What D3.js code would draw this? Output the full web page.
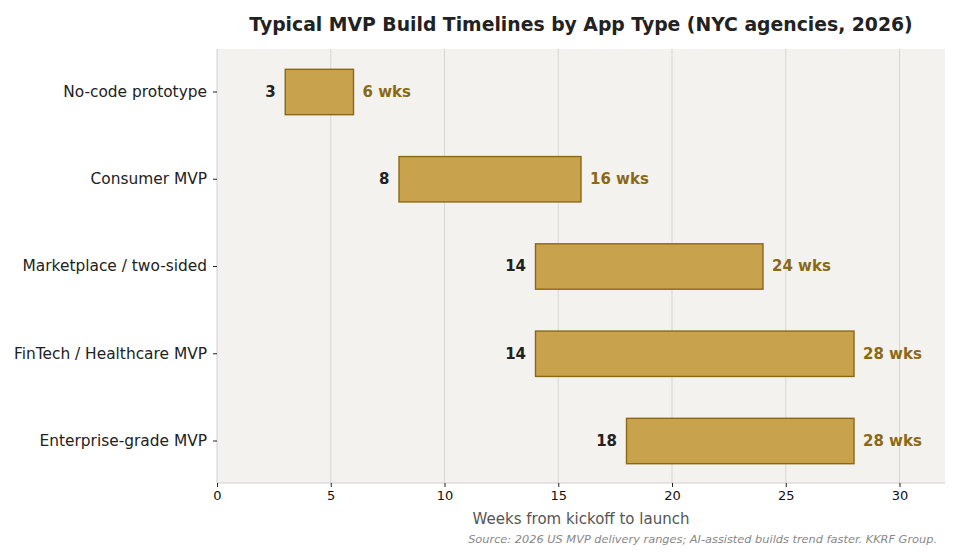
<!DOCTYPE html>
<html>
<head>
<meta charset="utf-8">
<script src="https://cdn.jsdelivr.net/npm/d3@7"></script>
<style>
  body { margin: 0; background: #fff; }
  svg { font-family: "DejaVu Sans", sans-serif; }
</style>
</head>
<body>
<svg id="chart" width="960" height="560"></svg>
<script>
var appTypes = ["No-code prototype", "Consumer MVP", "Marketplace / two-sided", "FinTech / Healthcare MVP", "Enterprise-grade MVP"];
var minWeeks = [3, 8, 14, 14, 18];
var maxWeeks = [6, 16, 24, 28, 28];
var xTicks = [0, 5, 10, 15, 20, 25, 30];

var data = appTypes.map((d, i) => ({type: d, lo: minWeeks[i], hi: maxWeeks[i]}));

var margin = {top: 49, right: 15, bottom: 77, left: 217};
var width = 960, height = 560;
var svg = d3.select("#chart");

var x = d3.scaleLinear().domain([0, 32]).range([margin.left, width - margin.right]);
var y = d3.scaleBand().domain(appTypes).range([margin.top, height - margin.bottom]).paddingInner(0.48).paddingOuter(0.227);

// plot background
svg.append("rect")
    .attr("x", margin.left).attr("y", margin.top)
    .attr("width", x(32) - margin.left)
    .attr("height", height - margin.bottom - margin.top)
    .attr("fill", "#f3f2ef");

// grid
svg.append("g").selectAll("line")
    .data(xTicks.filter(d => d > 0))
    .join("line")
    .attr("x1", d => x(d)).attr("x2", d => x(d))
    .attr("y1", margin.top).attr("y2", height - margin.bottom)
    .attr("stroke", "#d6d6d3").attr("stroke-width", 1);

// spines
svg.append("line")
    .attr("x1", margin.left).attr("x2", margin.left)
    .attr("y1", margin.top).attr("y2", height - margin.bottom)
    .attr("stroke", "#d0d0cc");
svg.append("line")
    .attr("x1", margin.left).attr("x2", x(32))
    .attr("y1", height - margin.bottom).attr("y2", height - margin.bottom)
    .attr("stroke", "#d0d0cc");

// x axis
var xAxis = svg.append("g")
    .attr("transform", "translate(0," + (height - margin.bottom) + ")")
    .call(d3.axisBottom(x).tickValues(xTicks).tickSize(4).tickPadding(4));
xAxis.select(".domain").remove();
xAxis.selectAll("text").attr("font-size", "13px").attr("fill", "#111").attr("font-family", "DejaVu Sans");
xAxis.selectAll(".tick line").attr("stroke", "#222");

// y axis
var yAxis = svg.append("g")
    .attr("transform", "translate(" + margin.left + ",0.5)")
    .call(d3.axisLeft(y).tickSize(4).tickPadding(6));
yAxis.select(".domain").remove();
yAxis.selectAll("text").attr("font-size", "15.4px").attr("fill", "#222").attr("font-family", "DejaVu Sans");
yAxis.selectAll(".tick line").attr("stroke", "#222");

// bars
svg.append("g").selectAll("rect")
    .data(data)
    .join("rect")
    .attr("x", d => x(d.lo))
    .attr("y", d => y(d.type) + 0.5)
    .attr("width", d => x(d.hi) - x(d.lo))
    .attr("height", y.bandwidth())
    .attr("fill", "#c9a24d")
    .attr("stroke", "#8b6914")
    .attr("stroke-width", 1.4);

// start labels
svg.append("g").selectAll("text")
    .data(data)
    .join("text")
    .attr("x", d => x(d.lo) - 9.5)
    .attr("y", d => y(d.type) + y.bandwidth() / 2)
    .attr("dy", "0.35em")
    .attr("text-anchor", "end")
    .attr("font-size", "15px")
    .attr("font-weight", "bold")
    .attr("fill", "#222")
    .text(d => d.lo);

// end labels
svg.append("g").selectAll("text")
    .data(data)
    .join("text")
    .attr("x", d => x(d.hi) + 9)
    .attr("y", d => y(d.type) + y.bandwidth() / 2)
    .attr("dy", "0.35em")
    .attr("font-size", "15px")
    .attr("font-weight", "bold")
    .attr("fill", "#8b6914")
    .text(d => d.hi + " wks");

// title
svg.append("text")
    .attr("x", (margin.left + x(32)) / 2)
    .attr("y", 30.5)
    .attr("text-anchor", "middle")
    .attr("font-size", "18.8px")
    .attr("font-weight", "bold")
    .attr("fill", "#222")
    .text("Typical MVP Build Timelines by App Type (NYC agencies, 2026)");

// x label
svg.append("text")
    .attr("x", (margin.left + x(32)) / 2)
    .attr("y", 524)
    .attr("text-anchor", "middle")
    .attr("font-size", "15px")
    .attr("fill", "#555")
    .text("Weeks from kickoff to launch");

// source
svg.append("text")
    .attr("x", 937)
    .attr("y", 543)
    .attr("text-anchor", "end")
    .attr("font-size", "11.35px")
    .attr("font-style", "italic")
    .attr("fill", "#888")
    .text("Source: 2026 US MVP delivery ranges; AI-assisted builds trend faster. KKRF Group.");
</script>
</body>
</html>
